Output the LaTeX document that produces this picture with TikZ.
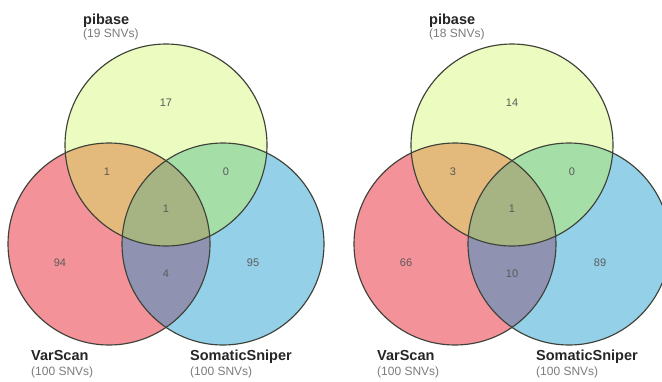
\documentclass[tikz,border=0pt]{standalone}
\usepackage{fontspec}
\setmainfont{Liberation Sans}
\definecolor{cTop}{HTML}{ECFBC0}
\definecolor{cLeft}{HTML}{F4929A}
\definecolor{cRight}{HTML}{94D1E9}
\definecolor{cTL}{HTML}{E4B97C}
\definecolor{cTR}{HTML}{A6DEA8}
\definecolor{cLR}{HTML}{8F92B0}
\definecolor{cTLR}{HTML}{A6B383}
\definecolor{cEdge}{HTML}{3E4238}
\definecolor{cSub}{HTML}{7C7C7C}
\definecolor{cNum}{HTML}{5A5A5A}
\tikzset{
  setname/.style={anchor=base west, inner sep=0pt, font=\fontsize{14.5}{16}\selectfont\bfseries, text=black!85},
  setsize/.style={anchor=base west, inner sep=0pt, font=\fontsize{12}{14}\selectfont, text=cSub},
  count/.style={inner sep=0pt, font=\fontsize{11}{12}\selectfont, text=cNum},
  rim/.style={draw=cEdge, line width=1.15pt}
}
% One three-set Venn diagram; #1 = horizontal shift, #2 = node prefix,
% #3 = pibase size, #4..#9 = region counts
\newcommand\threevenn[9]{%
\begin{scope}[xshift=#1pt]
  \def\rT{(166,145) circle[radius=101pt]}%
  \def\rL{(109,244) circle[radius=101pt]}%
  \def\rR{(223,244) circle[radius=101pt]}%
  \fill[cTop] \rT;
  \fill[cLeft] \rL;
  \fill[cRight] \rR;
  \begin{scope}\clip \rL; \fill[cLR] \rR; \end{scope}
  \begin{scope}\clip \rT; \fill[cTL] \rL; \fill[cTR] \rR; \end{scope}
  \begin{scope}\clip \rT; \clip \rL; \fill[cTLR] \rR; \end{scope}
  \draw[rim] \rT; \draw[rim] \rL; \draw[rim] \rR;
  \node[setname] (#2top) at (83,24) {pibase};
  \node[setsize] (#2topn) at (83,37) {(#3 SNVs)};
  \node[setname] (#2left) at (31,360) {VarScan};
  \node[setsize] (#2leftn) at (31,375) {(100 SNVs)};
  \node[setname] (#2right) at (190,360) {SomaticSniper};
  \node[setsize] (#2rightn) at (190,375) {(100 SNVs)};
  \node[count] (#2nT) at (166,103) {#4};
  \node[count] (#2nTL) at (107,172) {#5};
  \node[count] (#2nTR) at (226,172) {#6};
  \node[count] (#2nTLR) at (166,209) {#7};
  \node[count] (#2nL) at (60,263) {#8};
  \node[count] (#2nLR) at (166,274) {#9};
\end{scope}}
% count of the SomaticSniper-only region
\newcommand\rightcount[3]{\node[count] (#1) at (#2,263) {#3};}
\begin{document}
\begin{tikzpicture}[x=1pt,y=-1pt]
  \useasboundingbox (0,0) rectangle (662,381);
  \clip (0,0) rectangle (662,381);
  \fill[white] (0,0) rectangle (662,381);
  \threevenn{0}{a}{19}{17}{1}{0}{1}{94}{4}
  \rightcount{anR}{253}{95}
  \threevenn{346}{b}{18}{14}{3}{0}{1}{66}{10}
  \rightcount{bnR}{600}{89}
\end{tikzpicture}
\end{document}
